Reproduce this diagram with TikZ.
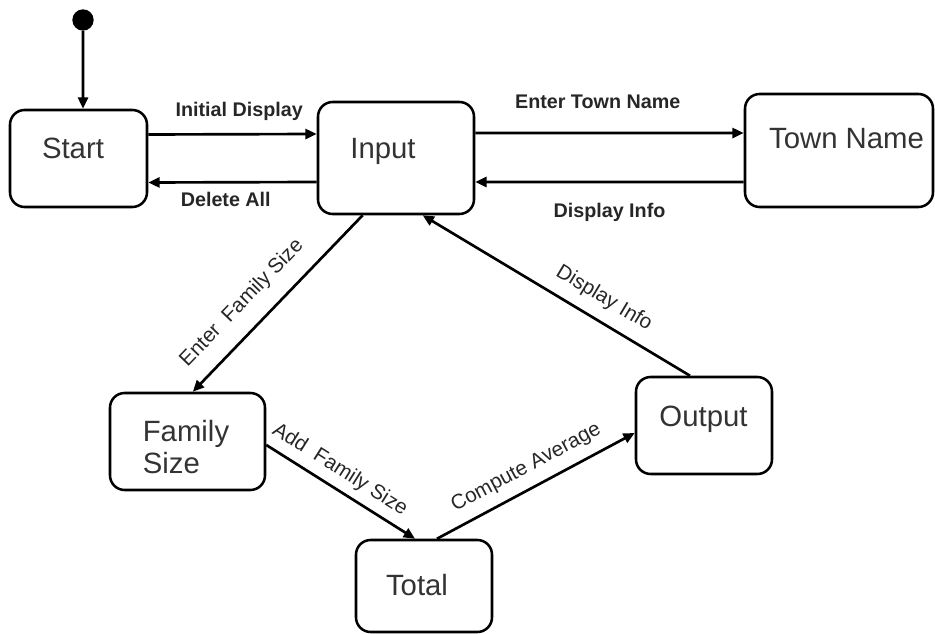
\documentclass[tikz,border=0pt]{standalone}
\usepackage{fontspec}
\setmainfont{Liberation Sans}
\usetikzlibrary{arrows.meta}

\tikzset{
  init/.style={circle, fill=black, minimum size=16pt, inner sep=0pt},
  state/.style={draw, rounded corners=11pt, line width=1.9pt, inner sep=0pt},
  sttext/.style={font=\fontsize{22}{23.5}\selectfont, text=black!80},
  stname/.style={sttext, text height=16pt, text depth=4.5pt},
  trans/.style={line width=2pt, -{Triangle[length=8.5pt,width=7.5pt]}},
  evt/.style={font=\fontsize{15.5}{17}\selectfont, text=black!85, inner sep=1pt,
    text height=11pt, text depth=3pt},
  evtb/.style={evt, font=\fontsize{14.8}{16}\selectfont\bfseries},
}

\begin{document}
\begin{tikzpicture}[x=0.75pt, y=-0.75pt]
\useasboundingbox (0,0) rectangle (935,634);

% Etats
\node[init] (init) at (83,20) {};
\node[state, minimum width=102.75pt, minimum height=72.75pt,
  label={[stname, shift={(-5.5,-7.8)}]center:Start}] (start) at (78.5,158.5) {};
\node[state, minimum width=117pt, minimum height=84pt,
  label={[stname, shift={(-13,-7.3)}]center:Input}] (input) at (396,158) {};
\node[state, minimum width=141pt, minimum height=84.75pt,
  label={[stname, shift={(7.5,-9.3)}]center:Town Name}] (town) at (839,150.5) {};
\node[state, minimum width=116.25pt, minimum height=72.75pt,
  label={[sttext, align=left, shift={(-1.5,5.5)}]center:Family\\Size}] (family) at (187.5,441.5) {};
\node[state, minimum width=102pt, minimum height=72.75pt,
  label={[stname, shift={(-0.5,-6.8)}]center:Output}] (output) at (704,425.5) {};
\node[state, minimum width=102pt, minimum height=69pt,
  label={[stname, shift={(-7,1.7)}]center:Total}] (total) at (424,586) {};

% Transitions
\draw[trans] (init) -- ([xshift=3.4pt]start.north);
\draw[trans] ([yshift=18pt]start.east)
  -- node[evtb, above=8.5pt, pos=0.54] (lInit) {Initial Display} ([yshift=18pt]input.west);
\draw[trans] ([yshift=-18pt]input.west)
  -- node[evtb, below=5.5pt, pos=0.54] (lDel) {Delete All} ([yshift=-18pt]start.east);
\draw[trans] ([yshift=18.75pt]input.east)
  -- node[evtb, above=13.75pt, pos=0.456] (lTown) {Enter Town Name} ([yshift=13.1pt]town.west);
\draw[trans] ([yshift=-23.6pt]town.west)
  -- node[evtb, below=13.75pt, pos=0.5] (lInfoA) {Display Info} ([yshift=-18pt]input.east);
\draw[trans] ([xshift=-25pt]input.south)
  -- node[evt, sloped, above=10.5pt, pos=0.6] (lFam) {Enter\ \ Family Size} ([xshift=4pt]family.north);
\draw[trans] ([xshift=-10.5pt]output.north)
  -- node[evt, sloped, above=7.5pt, pos=0.364] (lInfoB) {Display Info} ([xshift=20pt]input.south);
\draw[trans] ([yshift=-2.6pt]family.east)
  -- node[evt, sloped, above=4.5pt, pos=0.43] (lAdd) {Add\ \ Family Size} ([xshift=-6.75pt]total.north);
\draw[trans] ([xshift=9.75pt]total.north)
  -- node[evt, sloped, above=6.5pt, pos=0.5] (lAvg) {Compute Average} ([yshift=-5.6pt]output.west);

\end{tikzpicture}
\end{document}
